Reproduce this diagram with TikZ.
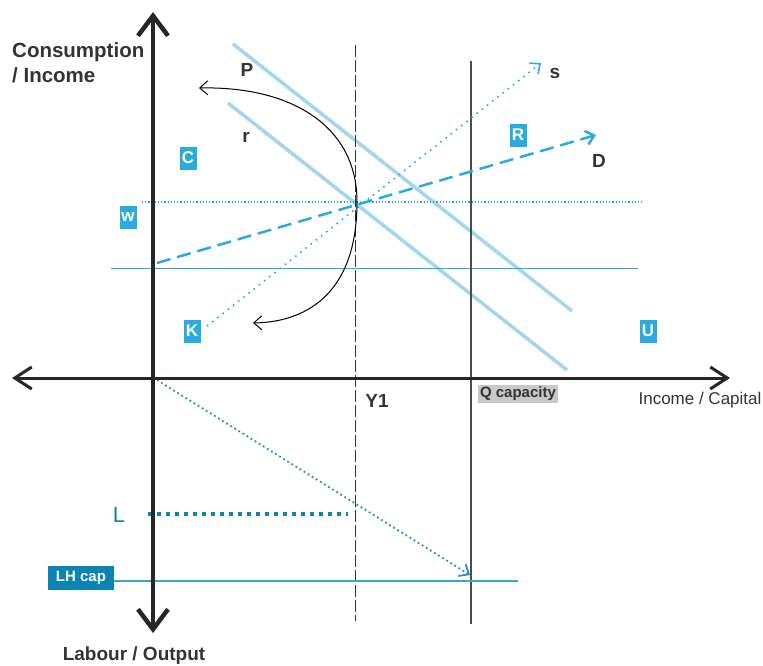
\documentclass[tikz,border=0pt]{standalone}
\usepackage{fontspec}
\setmainfont{Liberation Sans}
\usetikzlibrary{arrows.meta, positioning}
\definecolor{CSblue}{HTML}{29ABE2}
\definecolor{CSpale}{HTML}{A2D6EA}
\definecolor{CSteal}{HTML}{0B83B3}
\definecolor{CSline}{HTML}{3FA3C6}
\definecolor{CSink}{HTML}{333333}
\definecolor{CSgrey}{HTML}{C8C8C8}

\tikzset{
  axis/.style={line width=4.5pt, draw=black!85, -{Straight Barb[length=20pt, width=30pt]}},
  haxis/.style={line width=3pt, draw=black!85, -{Straight Barb[length=17pt, width=22pt]}},
  guide/.style={draw=CSink, line width=1.2pt},
  slope/.style={draw=CSpale, line width=3.5pt},
  tag/.style={fill=CSblue, text=white, font=\fontsize{17}{17}\selectfont\bfseries,
    minimum width=17pt, minimum height=23pt, inner sep=0pt},
  lbl/.style={text=CSink, font=\fontsize{19}{19}\selectfont\bfseries, inner sep=0pt},
  tip/.style={-{Straight Barb[length=8pt, width=14pt]}}
}

\begin{document}
\begin{tikzpicture}[x=1pt, y=-1pt]
  \useasboundingbox (0,0) rectangle (763,665);
  % axes and guide points
  \coordinate (o) at (153,378);
  \coordinate (ytop) at (153,12);
  \coordinate (ybot) at (153,633);
  \coordinate (xleft) at (12,378);
  \coordinate (xright) at (730,378);
  \coordinate (y1top) at (355,45);
  \coordinate (y1bot) at (355,621);
  \coordinate (qtop) at (471,61);
  \coordinate (qbot) at (471,624);
  \coordinate (pA) at (233,44);
  \coordinate (pB) at (572,311);
  \coordinate (rA) at (228,103);
  \coordinate (rB) at (567,370);
  \coordinate (wA) at (142,202);
  \coordinate (wB) at (643,202);
  \coordinate (hA) at (111,268);
  \coordinate (hB) at (638,268);
  \coordinate (dA) at (157,263);
  \coordinate (dB) at (596,135);
  \coordinate (sB) at (541,63);
  \coordinate (vtx) at (357,202);
  \coordinate (cTop) at (199,88);
  \coordinate (cBot) at (253,323);
  \coordinate (lA) at (148,514);
  \coordinate (lB) at (348,514);
  \coordinate (lhB) at (518,581);
  \coordinate (oDot) at (157,380);
  \coordinate (oEnd) at (470,575);

  % the two sloped lines
  \draw[slope] (pA) -- (pB);
  \draw[slope] (rA) -- (rB);

  % horizontal blue levels
  \draw[CSblue, line width=1.2pt, dotted] (wA) -- (wB);
  \draw[CSblue, line width=1pt] (hA) -- (hB);

  % verticals
  \draw[guide, line width=1pt, dash pattern=on 12pt off 3pt] (y1top) -- (y1bot);
  \draw[guide, draw=black!70] (qtop) -- (qbot);

  % labelled boxes
  \node[tag] (C) at (188,158) {C};
  \node[tag] (w) at (128,217) {w};
  \node[tag] (K) at (192,331) {K};
  \node[tag] (R) at (518,135) {R};
  \node[tag] (U) at (648,331) {U};

  % arrows D and s
  \draw[CSblue, line width=2.5pt, dash pattern=on 14pt off 7pt, tip] (dA) -- (dB);
  \draw[CSblue, line width=1.6pt, dash pattern=on 1.6pt off 5pt, tip, shorten <=8pt] (K.east) -- (sB);

  % the curve through Y1
  \draw[black, line width=1pt, {Straight Barb[length=8pt, width=14pt]}-{Straight Barb[length=8pt, width=14pt]}]
    (cTop) .. controls (290,86) and (357,125) .. (vtx)
    .. controls (357,290) and (310,322) .. (cBot);

  % lower quadrant
  \node[fill=CSteal, text=white, font=\fontsize{15}{15}\selectfont\bfseries,
    minimum width=66pt, minimum height=24pt, inner sep=0pt] (lhcap) at (81,578) {LH cap};
  \draw[CSline, line width=1.2pt] (lhcap.east |- lhB) -- (lhB);
  \draw[CSteal, line width=4pt, dash pattern=on 4pt off 5pt] (lA) -- (lB);
  \draw[CSteal!90, line width=1.8pt, dash pattern=on 1.8pt off 3pt, tip] (oDot) -- (oEnd);
  \node[text=CSteal, font=\fontsize{22}{22}\selectfont, inner sep=0pt] (L) at (119,515) {L};

  % axes
  \draw[axis] (o) -- (ytop);
  \draw[axis] (o) -- (ybot);
  \draw[haxis] (o) -- (xleft);
  \draw[haxis] (o) -- (xright);

  % texts
  \node[lbl, anchor=north west, align=left, font=\fontsize{20.5}{25}\selectfont\bfseries]
    (cons) at (12,42) {Consumption\\/ Income};
  \node[lbl] (P) at (247,70) {P};
  \node[lbl] (r) at (246,137) {r};
  \node[lbl] (s) at (555,73) {s};
  \node[lbl] (D) at (599,161) {D};
  \node[lbl] (Y1) at (377,401) {Y1};
  \node[lbl, fill=CSgrey, inner sep=2pt, font=\fontsize{15}{15}\selectfont\bfseries]
    (Q) at (518,394) {Q capacity};
  \node[lbl, font=\fontsize{17}{17}\selectfont] (inc) at (700,400) {Income / Capital};
  \node[lbl] (lab) at (134,656) {Labour / Output};
\end{tikzpicture}
\end{document}
